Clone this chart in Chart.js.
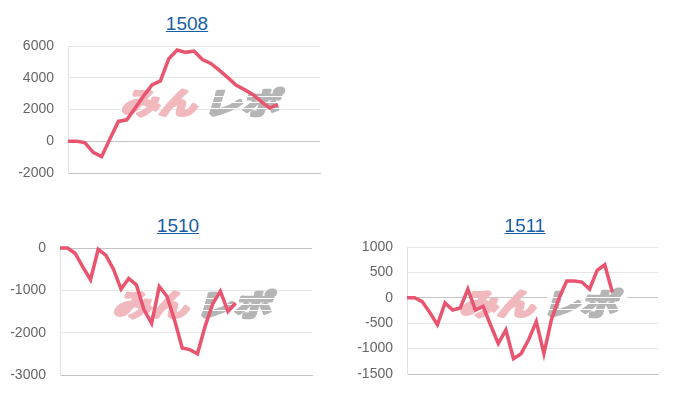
<!DOCTYPE html>
<html>
<head>
<meta charset="utf-8">
<script src="https://cdn.jsdelivr.net/npm/chart.js@4"></script>
<style>
  body { margin: 0; width: 700px; height: 400px; background: #fff; position: relative; overflow: hidden; font-family: Arial, "Liberation Sans", sans-serif; }
  .title { position: absolute; text-align: center; font-size: 19px; line-height: 19px; }
  .title a { color: #1b5ea6; text-decoration: underline; }
  canvas { position: absolute; }
</style>
</head>
<body>
<div class="title" style="left:0;top:14px;width:374px;"><a href="#">1508</a></div>
<canvas id="c1508" width="374" height="160" style="left:0;top:30px"></canvas>

<div class="title" style="left:0;top:216px;width:356px;"><a href="#">1510</a></div>
<canvas id="c1510" width="356" height="160" style="left:0;top:232px"></canvas>

<div class="title" style="left:350px;top:216px;width:350px;"><a href="#">1511</a></div>
<canvas id="c1511" width="350" height="160" style="left:350px;top:232px"></canvas>

<script>
// x positions (hidden ticks)
const labels1508 = [1,2,3,4,5,6,7,8,9,10,11,12,13,14,15,16,17,18,19,20,21,22,23,24,25,26,27,28,29,30,31];
const labels151x = [1,2,3,4,5,6,7,8,9,10,11,12,13,14,15,16,17,18,19,20,21,22,23,24,25,26,27,28,29,30,31,32,33,34];

// values
const s1508 = [0, 0, -80, -700, -970, 150, 1250, 1350, 2100, 2850, 3550, 3800, 5200, 5750, 5600, 5680, 5150, 4900, 4480, 4020, 3540, 3250, 2950, 2500, 2100, 2300];
const s1510 = [0, 0, -130, -450, -750, -30, -170, -500, -970, -720, -870, -1460, -1780, -910, -1140, -1700, -2360, -2400, -2500, -1850, -1320, -1020, -1500, -1300];
const s1511 = [0, 0, -75, -290, -530, -100, -240, -200, 170, -240, -170, -540, -900, -630, -1200, -1100, -820, -470, -1100, -420, 0, 330, 330, 310, 170, 540, 650, 110];

// y tick labels
const yTicks1508 = [-2000, 0, 2000, 4000, 6000];
const yTicks1510 = [-3000, -2000, -1000, 0];
const yTicks1511 = [-1500, -1000, -500, 0, 500, 1000];

const markPink = "みん";
const markGray = "レポ";

Chart.defaults.font.family = 'Arial, "Liberation Sans", sans-serif';

const lineColor = "rgb(233, 84, 110)";

// logo behind the line
const watermark = {
  id: "watermark",
  beforeDatasetsDraw(chart) {
    const { ctx, chartArea: a } = chart;
    const cx = (a.left + a.right) / 2 + 9;
    const cy = (a.top + a.bottom) / 2 - 7;
    ctx.save();
    ctx.font = 'bold 30px "Noto Sans CJK JP"';
    const w1 = ctx.measureText(markPink).width;
    const w2 = ctx.measureText(markGray).width;
    const gap = 6;
    const sx = 158 / (w1 + w2 + gap);
    ctx.translate(cx, cy);
    ctx.transform(sx, 0, -0.3, 1, 0, 0);
    ctx.textBaseline = "middle";
    ctx.lineJoin = "round";
    ctx.lineWidth = 3;
    const x0 = -(w1 + w2 + gap) / 2;
    ctx.fillStyle = ctx.strokeStyle = "#f1b8be";
    ctx.fillText(markPink, x0, 0);
    ctx.strokeText(markPink, x0, 0);
    ctx.fillStyle = ctx.strokeStyle = "#b5b5b5";
    ctx.fillText(markGray, x0 + w1 + gap, 0);
    ctx.strokeText(markGray, x0 + w1 + gap, 0);
    // speed lines through the grey part
    ctx.strokeStyle = "#fff";
    ctx.lineWidth = 1.2;
    [-6, 0, 6].forEach(dy => {
      ctx.beginPath();
      ctx.moveTo(x0 + w1 + gap, dy);
      ctx.lineTo(x0 + w1 + gap + w2 + 4, dy);
      ctx.stroke();
    });
    ctx.restore();
  }
};

function makeChart(id, labels, values, yTicks, yWidth, pad) {
  new Chart(document.getElementById(id), {
    type: "line",
    data: {
      labels: labels,
      datasets: [{
        data: values,
        borderColor: lineColor,
        borderWidth: 3.5,
        pointRadius: 0,
        tension: 0,
        fill: false,
        clip: 4
      }]
    },
    options: {
      responsive: false,
      animation: false,
      layout: { padding: pad },
      plugins: {
        legend: { display: false },
        tooltip: { enabled: false }
      },
      scales: {
        x: {
          grid: { display: false, drawTicks: false },
          ticks: { display: false },
          border: { color: "#c2c2c2" },
          afterFit: s => { s.height = 0; }
        },
        y: {
          min: yTicks[0],
          max: yTicks[yTicks.length - 1],
          ticks: {
            stepSize: yTicks[1] - yTicks[0],
            padding: 0,
            color: "#666",
            font: { size: 14 },
            callback: v => String(v)
          },
          grid: {
            drawTicks: true,
            tickLength: 14,
            tickColor: "rgba(0,0,0,0)",
            color: c => (c.tick && c.tick.value === 0) ? "#c4c4c4" : "#e6e6e6"
          },
          border: { color: "#e2e2e2" },
          afterFit: s => { s.width = yWidth; }
        }
      }
    },
    plugins: [watermark]
  });
}

makeChart("c1508", labels1508, s1508, yTicks1508, 68, { top: 16, bottom: 17, left: 0, right: 54 });
makeChart("c1510", labels151x, s1510, yTicks1510, 60, { top: 16, bottom: 17, left: 0, right: 44 });
makeChart("c1511", labels151x, s1511, yTicks1511, 57, { top: 15, bottom: 18, left: 0, right: 42 });
</script>
</body>
</html>
